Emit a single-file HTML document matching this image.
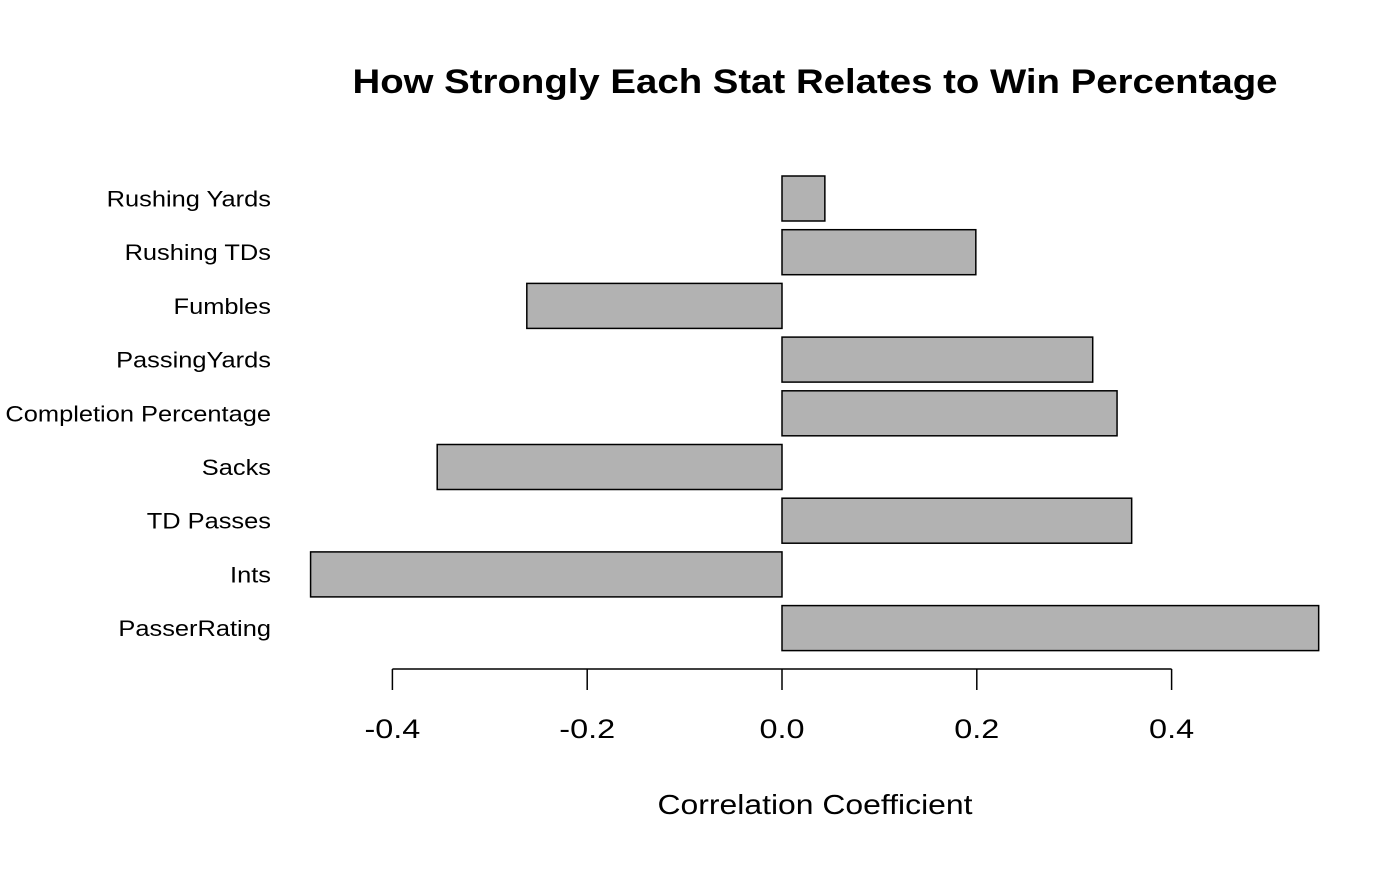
<!DOCTYPE html>
<html><head><meta charset="utf-8"><style>
body{margin:0;background:#fff}
svg text{font-family:"Liberation Sans",Arial,sans-serif}
</style></head><body>
<svg id="chart" width="1400" height="865" viewBox="0 0 1400 865" xmlns="http://www.w3.org/2000/svg">
<rect width="1400" height="865" fill="#fff"/>
<text x="815" y="93" text-anchor="middle" font-size="34" font-weight="bold" textLength="925" lengthAdjust="spacingAndGlyphs">How Strongly Each Stat Relates to Win Percentage</text>
<text x="815" y="814" text-anchor="middle" font-size="28" textLength="315" lengthAdjust="spacingAndGlyphs">Correlation Coefficient</text>
<g id="bars"></g><g id="axis"></g>
</svg>
<script>
const categories=["Rushing Yards","Rushing TDs","Fumbles","PassingYards","Completion Percentage","Sacks","TD Passes","Ints","PasserRating"];
const values=[0.044,0.199,-0.262,0.319,0.344,-0.354,0.359,-0.484,0.551];
const ticks=[-0.4,-0.2,0.0,0.2,0.4];
const tickLabels=["-0.4","-0.2","0.0","0.2","0.4"];
const NS="http://www.w3.org/2000/svg";
const x=v=>782+v*974;
const yTop=i=>176+i*53.7;
const bh=45;
const bars=document.getElementById('bars');
categories.forEach((c,i)=>{
  const r=document.createElementNS(NS,'rect');
  const v=values[i];
  r.setAttribute('x',Math.min(x(0),x(v)));
  r.setAttribute('y',yTop(i));
  r.setAttribute('width',Math.abs(x(v)-x(0)));
  r.setAttribute('height',bh);
  r.setAttribute('fill','#b2b2b2');r.setAttribute('stroke','#000');r.setAttribute('stroke-width','1.5');
  
  
  bars.appendChild(r);
  const t=document.createElementNS(NS,'text');
  t.setAttribute('x',271);t.setAttribute('y',yTop(i)+bh/2+8);
  t.setAttribute('text-anchor','end');t.setAttribute('font-size','22');
  t.textContent=c;
  
  
  bars.appendChild(t);
  const w=t.getComputedTextLength();
  t.setAttribute('textLength',w*1.155);
  t.setAttribute('lengthAdjust','spacingAndGlyphs');
});
const ax=document.getElementById('axis');
const l=document.createElementNS(NS,'line');
l.setAttribute('x1',x(ticks[0]));l.setAttribute('x2',x(ticks[ticks.length-1]));
l.setAttribute('y1',669);l.setAttribute('y2',669);l.setAttribute('stroke','#000');l.setAttribute('stroke-width','1.5');


ax.appendChild(l);
ticks.forEach((v,i)=>{
  const tk=document.createElementNS(NS,'line');
  tk.setAttribute('x1',x(v));tk.setAttribute('x2',x(v));tk.setAttribute('y1',669);tk.setAttribute('y2',690);
  tk.setAttribute('stroke','#000');tk.setAttribute('stroke-width','1.5');
  
  
  ax.appendChild(tk);
  const t=document.createElementNS(NS,'text');
  t.setAttribute('x',x(v));t.setAttribute('y',738);t.setAttribute('text-anchor','middle');t.setAttribute('font-size','27');
  t.textContent=tickLabels[i];
  
  
  ax.appendChild(t);
  const w=t.getComputedTextLength();
  t.setAttribute('textLength',w*1.2);
  t.setAttribute('lengthAdjust','spacingAndGlyphs');
});
</script>
</body></html>
